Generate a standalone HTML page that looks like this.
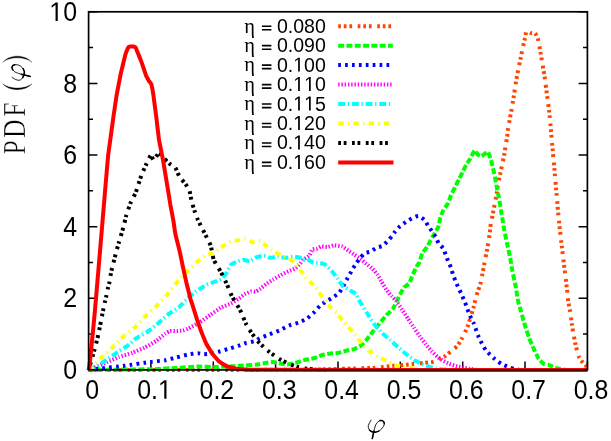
<!DOCTYPE html>
<html><head><meta charset="utf-8"><title>PDF plot</title>
<style>html,body{margin:0;padding:0;background:#fff;}svg{display:block;will-change:transform;}text{font-family:"Liberation Sans",sans-serif;fill:#000;}.s{font-family:"Liberation Serif",serif;}</style></head><body>
<svg width="611" height="441" viewBox="0 0 611 441">
<rect width="611" height="441" fill="#fff"/>
<path d="M88.6,369.9h8.8M587.4,369.9h-8.8M88.6,334.1h4.4M587.4,334.1h-4.4M88.6,298.3h8.8M587.4,298.3h-8.8M88.6,262.5h4.4M587.4,262.5h-4.4M88.6,226.7h8.8M587.4,226.7h-8.8M88.6,190.8h4.4M587.4,190.8h-4.4M88.6,155.0h8.8M587.4,155.0h-8.8M88.6,119.2h4.4M587.4,119.2h-4.4M88.6,83.4h8.8M587.4,83.4h-8.8M88.6,47.6h4.4M587.4,47.6h-4.4M88.6,11.8h8.8M587.4,11.8h-8.8M88.6,369.9v-8.5M150.9,369.9v-8.5M213.3,369.9v-8.5M275.6,369.9v-8.5M338.0,369.9v-8.5M400.3,369.9v-8.5M462.7,369.9v-8.5M525.0,369.9v-8.5M587.4,369.9v-8.5" stroke="#000" stroke-width="1.5" fill="none"/>
<g fill="none" stroke-width="4.0" stroke-linejoin="round">
<path d="M88.6,370.0 C103.7,370.0 282.8,369.9 300.0,369.8 C317.2,369.8 326.1,369.4 330.0,369.3 C333.9,369.2 351.8,368.5 355.0,368.4 C358.2,368.3 371.8,368.0 374.6,367.8 C377.4,367.6 392.1,366.0 394.3,365.8 C396.6,365.6 404.7,364.9 406.1,364.8 C407.5,364.7 412.6,364.0 413.9,363.9 C415.2,363.8 422.4,363.0 423.8,362.9 C425.2,362.8 432.5,362.2 433.6,361.9 C434.7,361.6 438.7,359.3 439.5,358.9 C440.3,358.5 444.6,356.6 445.4,356.0 C446.2,355.4 450.5,351.8 451.3,351.1 C452.1,350.4 456.4,347.1 457.2,346.2 C458.0,345.3 461.5,339.3 462.1,338.3 C462.7,337.3 464.6,333.3 465.0,332.4 C465.4,331.5 467.6,326.6 468.0,325.5 C468.4,324.4 470.2,318.3 470.6,317.1 C471.0,315.9 472.9,309.6 473.3,308.3 C473.7,307.0 475.3,300.1 475.6,298.8 C475.9,297.5 477.7,291.8 478.1,290.6 C478.5,289.4 480.5,283.8 480.8,282.4 C481.1,281.0 482.6,273.2 482.9,271.6 C483.2,270.1 484.6,262.1 484.9,260.7 C485.2,259.3 486.4,253.2 486.7,251.7 C487.0,250.2 488.6,241.1 488.8,239.5 C489.1,237.9 490.1,230.4 490.2,229.3 C490.3,228.2 490.6,224.9 490.8,223.8 C491.0,222.7 492.6,215.1 492.9,213.6 C493.2,212.1 494.6,204.9 494.9,203.4 C495.2,201.9 496.7,193.5 496.9,192.1 C497.1,190.7 497.8,185.2 498.0,184.0 C498.2,182.8 499.7,176.1 500.0,174.8 C500.3,173.5 501.7,167.0 502.0,165.6 C502.3,164.2 503.8,156.9 504.1,155.4 C504.4,153.9 505.5,146.5 505.7,145.2 C505.9,143.9 506.9,138.2 507.1,137.0 C507.3,135.8 507.8,130.3 508.2,128.0 C508.6,125.7 511.8,108.2 512.4,104.8 C513.0,101.4 515.9,82.5 516.3,79.9 C516.7,77.3 518.1,70.5 518.4,69.0 C518.7,67.5 520.1,60.9 520.4,59.5 C520.7,58.1 522.1,50.7 522.4,49.3 C522.7,47.9 524.3,41.4 524.5,40.4 C524.7,39.4 525.5,35.7 525.6,35.0 C525.7,34.3 526.1,30.8 526.5,30.6 C526.9,30.5 530.0,32.7 530.6,32.9 C531.2,33.1 534.6,32.9 535.1,33.3 C535.6,33.7 537.5,37.5 537.8,38.4 C538.1,39.3 539.3,45.4 539.5,46.5 C539.7,47.6 540.6,53.0 540.8,54.0 C541.0,55.0 541.7,59.7 541.9,60.8 C542.1,61.9 543.1,67.9 543.3,69.0 C543.5,70.1 544.3,74.5 544.6,76.5 C544.9,78.5 546.9,94.4 547.3,97.3 C547.7,100.2 549.5,113.8 549.8,117.0 C550.1,120.2 551.6,137.8 551.9,141.5 C552.2,145.2 554.0,164.3 554.3,168.1 C554.6,171.9 556.3,191.0 556.6,194.6 C556.9,198.2 558.4,214.8 558.7,218.2 C559.0,221.6 560.9,238.9 561.3,242.0 C561.7,245.1 563.3,258.9 563.7,262.2 C564.1,265.5 566.5,284.8 566.8,287.6 C567.1,290.4 568.0,299.3 568.2,301.0 C568.4,302.7 569.9,310.2 570.2,311.8 C570.5,313.4 571.5,321.9 571.8,323.6 C572.0,325.3 573.4,333.7 573.7,335.4 C574.0,337.1 575.7,345.7 576.1,347.2 C576.5,348.7 578.5,355.9 579.0,357.0 C579.5,358.1 582.5,362.3 583.0,362.9 C583.5,363.5 585.6,365.4 585.9,365.8 C586.2,366.2 587.3,367.8 587.4,368.0" stroke="#ff4500" stroke-dasharray="2.7,2.9,2.7,2.9,2.7,5.6"/>
<path d="M88.6,370.0 C93.0,369.9 143.7,369.4 150.0,369.3 C156.3,369.2 173.2,368.1 176.6,367.9 C180.0,367.7 194.8,366.7 197.6,366.6 C200.4,366.5 212.9,367.2 215.9,367.1 C218.9,367.0 237.2,366.0 240.0,365.8 C242.8,365.6 253.9,365.0 255.7,364.8 C257.5,364.6 264.2,363.1 265.5,362.9 C266.8,362.7 272.4,361.9 273.4,361.9 C274.4,361.9 278.3,363.1 279.3,363.3 C280.3,363.5 285.9,364.5 287.2,364.4 C288.5,364.3 295.7,362.8 297.0,362.5 C298.3,362.2 303.5,360.2 304.8,359.9 C306.1,359.6 313.4,358.4 314.7,358.0 C316.0,357.6 321.4,355.3 322.5,355.0 C323.6,354.7 329.3,353.5 330.4,353.4 C331.5,353.3 337.1,353.2 338.2,353.0 C339.3,352.8 345.0,351.0 346.1,350.7 C347.2,350.4 353.0,349.4 354.0,349.1 C355.0,348.8 359.2,346.8 360.0,346.2 C360.8,345.6 364.8,342.0 365.7,340.9 C366.6,339.8 371.8,333.0 373.3,331.1 C374.8,329.2 385.4,316.4 386.8,314.8 C388.2,313.2 392.1,310.1 393.0,308.7 C393.9,307.3 399.2,296.1 400.0,294.6 C400.8,293.1 403.4,288.2 404.1,287.4 C404.8,286.6 408.6,284.2 409.2,283.4 C409.8,282.6 411.7,277.4 412.2,276.2 C412.7,275.0 415.8,268.0 416.3,267.0 C416.8,266.0 419.1,263.1 419.5,262.1 C419.9,261.1 421.7,254.4 422.2,253.3 C422.7,252.2 426.4,248.1 427.0,247.2 C427.6,246.3 429.9,241.6 430.4,240.6 C430.9,239.6 433.9,234.6 434.5,233.6 C435.1,232.6 438.2,227.2 438.6,226.1 C439.0,225.0 439.9,219.0 440.2,217.9 C440.5,216.8 442.7,211.5 443.3,210.4 C443.9,209.3 447.6,204.1 448.1,203.0 C448.7,201.9 450.5,196.3 451.0,195.2 C451.5,194.1 454.5,188.2 455.1,187.0 C455.7,185.8 458.6,180.1 459.2,178.9 C459.8,177.7 462.8,171.7 463.3,170.7 C463.8,169.7 465.8,165.5 466.3,164.6 C466.8,163.7 469.8,159.5 470.4,158.5 C471.0,157.5 474.0,150.6 474.5,150.3 C475.0,150.0 477.1,154.0 477.6,154.4 C478.1,154.8 480.9,156.6 481.6,156.4 C482.3,156.2 487.1,151.5 487.8,151.7 C488.5,151.9 490.4,158.4 490.8,159.5 C491.2,160.6 492.6,166.5 492.9,167.7 C493.2,168.9 494.6,175.3 494.9,176.8 C495.2,178.3 496.6,186.6 496.9,188.1 C497.2,189.6 498.7,196.7 499.0,198.3 C499.3,199.9 500.7,208.8 501.0,210.5 C501.3,212.2 502.9,221.5 503.1,222.8 C503.3,224.1 503.8,227.8 504.1,229.3 C504.4,230.8 506.7,241.6 507.1,243.6 C507.5,245.6 509.8,256.0 510.2,257.9 C510.6,259.8 511.8,268.2 512.2,270.1 C512.6,272.0 514.9,282.5 515.3,284.4 C515.7,286.3 517.1,295.3 517.3,296.6 C517.5,297.9 518.0,300.9 518.3,302.0 C518.6,303.1 520.6,310.1 521.1,311.8 C521.6,313.5 524.4,323.7 525.0,325.5 C525.6,327.3 528.3,335.6 528.9,337.3 C529.5,339.0 533.2,347.6 533.9,349.1 C534.6,350.6 538.1,357.8 538.8,358.9 C539.5,360.0 543.0,363.5 543.7,363.9 C544.4,364.3 547.8,364.6 548.6,364.8 C549.4,365.1 553.7,367.1 554.5,367.4 C555.3,367.7 559.2,368.6 560.0,368.8 C560.8,369.0 564.4,369.7 565.0,369.8 C565.6,369.9 567.8,370.0 568.0,370.0" stroke="#00ff00" stroke-dasharray="5.9,2.4"/>
<path d="M88.6,370.0 C89.5,369.9 98.2,368.7 100.7,368.4 C103.2,368.1 120.8,366.3 124.3,365.8 C127.8,365.3 147.5,362.3 150.4,361.9 C153.3,361.5 163.1,360.6 165.0,360.3 C166.9,360.0 174.9,357.8 176.6,357.4 C178.2,357.0 186.6,354.8 188.1,354.5 C189.6,354.2 196.7,353.2 197.8,353.2 C198.9,353.2 202.5,354.2 203.5,354.2 C204.5,354.2 210.1,353.8 211.2,353.6 C212.3,353.4 217.8,352.0 219.0,351.7 C220.2,351.4 227.2,349.2 228.6,348.8 C230.0,348.4 237.0,346.3 238.2,345.9 C239.4,345.5 244.7,343.3 245.9,343.0 C247.1,342.7 254.0,341.4 255.0,341.1 C256.0,340.8 258.6,338.8 259.6,338.3 C260.6,337.8 268.1,335.0 269.5,334.4 C270.9,333.8 277.9,331.1 279.3,330.5 C280.7,329.9 287.7,326.1 289.1,325.5 C290.5,324.9 297.6,323.1 298.9,322.6 C300.2,322.1 305.7,319.5 306.8,318.7 C307.9,317.9 313.7,312.8 314.7,311.8 C315.7,310.8 319.6,306.0 320.5,305.2 C321.4,304.4 326.4,301.4 327.3,300.8 C328.2,300.2 332.4,297.8 333.3,297.2 C334.2,296.6 338.5,293.5 339.2,292.7 C339.9,291.9 342.8,287.1 343.3,286.2 C343.8,285.3 346.1,280.8 346.5,280.0 C346.9,279.2 349.1,275.4 349.6,274.6 C350.1,273.8 352.5,269.3 353.0,268.5 C353.5,267.7 356.0,263.6 356.5,262.8 C357.0,262.0 359.9,258.5 360.5,257.8 C361.1,257.1 364.2,253.4 364.9,253.0 C365.6,252.6 369.8,252.0 370.6,251.6 C371.4,251.2 375.7,248.1 376.6,247.7 C377.5,247.3 381.9,246.3 382.7,245.8 C383.5,245.3 387.3,241.2 388.0,240.5 C388.7,239.8 391.5,236.6 392.0,236.0 C392.5,235.4 394.4,232.5 395.0,231.8 C395.6,231.1 399.1,227.0 400.0,226.2 C400.9,225.4 406.2,221.7 407.1,221.1 C408.0,220.5 411.9,218.3 412.7,217.9 C413.5,217.5 417.6,215.8 418.4,215.9 C419.2,216.0 423.6,219.0 424.3,219.7 C425.0,220.4 427.5,224.9 428.0,225.7 C428.5,226.5 431.2,230.3 431.8,231.1 C432.4,231.9 435.4,236.3 435.9,237.2 C436.4,238.1 438.1,242.7 438.6,243.5 C439.1,244.3 442.8,247.5 443.3,248.3 C443.8,249.1 445.3,253.8 445.6,254.7 C445.9,255.6 447.7,260.2 448.1,261.1 C448.5,262.0 450.6,266.6 450.9,267.5 C451.2,268.4 452.6,273.3 452.9,274.3 C453.2,275.3 455.2,280.2 455.6,281.1 C456.0,282.0 457.7,286.3 458.1,287.2 C458.5,288.1 460.7,292.4 461.1,293.3 C461.5,294.2 463.4,298.6 463.8,299.5 C464.2,300.4 466.2,305.4 466.5,306.3 C466.8,307.2 468.3,311.5 468.6,312.4 C468.9,313.3 470.9,317.7 471.3,318.5 C471.7,319.3 473.4,322.3 473.9,323.6 C474.4,324.9 478.0,335.4 478.8,337.3 C479.6,339.2 484.6,348.6 485.7,350.1 C486.8,351.6 492.5,357.0 493.6,358.0 C494.7,359.0 500.3,363.2 501.4,363.9 C502.5,364.6 508.4,367.0 509.3,367.4 C510.2,367.8 513.4,368.6 514.0,368.8 C514.6,369.0 517.5,369.6 518.0,369.7 C518.5,369.8 520.8,370.0 521.0,370.0" stroke="#0000ff" stroke-dasharray="2.7,4.2"/>
<path d="M88.6,370.0 C89.9,369.4 104.9,363.0 107.1,362.1 C109.3,361.2 117.2,357.7 119.0,357.0 C120.8,356.3 130.8,353.4 132.6,352.7 C134.4,352.0 142.8,348.5 144.5,347.6 C146.2,346.8 154.9,341.8 156.4,340.8 C157.9,339.8 163.9,334.7 164.9,334.0 C165.9,333.3 169.2,331.2 170.0,331.0 C170.8,330.8 175.9,331.0 176.8,331.0 C177.7,331.0 182.2,330.7 183.0,330.5 C183.8,330.3 187.2,329.1 188.4,328.5 C189.6,327.9 197.7,323.5 199.3,322.5 C200.9,321.5 209.1,315.9 210.6,314.8 C212.1,313.7 219.3,308.5 220.8,307.7 C222.3,306.9 229.7,304.0 231.0,303.4 C232.3,302.8 237.6,299.4 238.6,298.8 C239.6,298.2 243.7,294.8 244.6,294.3 C245.5,293.8 250.4,291.6 251.2,291.4 C252.0,291.2 254.9,291.8 255.5,291.6 C256.1,291.5 258.8,289.8 259.6,289.3 C260.4,288.8 265.2,284.7 266.2,284.0 C267.2,283.3 272.4,279.9 273.5,279.3 C274.6,278.7 279.9,275.6 281.0,275.0 C282.1,274.4 287.5,271.8 288.5,271.3 C289.5,270.8 294.2,269.0 295.0,268.5 C295.8,268.0 299.4,264.4 300.0,263.8 C300.6,263.2 302.5,260.3 303.2,259.7 C303.9,259.1 308.7,256.3 309.3,255.6 C309.9,254.9 311.7,250.0 312.3,249.5 C312.9,249.0 316.7,248.7 317.4,248.5 C318.1,248.3 320.8,246.5 321.5,246.4 C322.2,246.3 326.8,247.1 327.7,247.0 C328.6,246.9 332.8,245.4 333.8,245.4 C334.8,245.4 340.9,246.0 341.9,246.4 C342.9,246.8 347.2,249.9 348.1,250.5 C349.0,251.1 353.3,254.0 354.2,254.6 C355.1,255.2 359.4,258.0 360.3,258.7 C361.2,259.4 365.5,263.1 366.4,263.8 C367.3,264.5 371.8,268.1 372.6,268.9 C373.4,269.7 377.1,274.1 377.7,275.0 C378.3,275.9 381.1,281.0 381.7,282.1 C382.3,283.2 386.1,289.3 386.8,290.3 C387.5,291.3 391.2,295.6 391.9,296.4 C392.6,297.2 395.6,300.0 396.3,301.0 C397.0,302.0 401.4,308.5 402.2,309.8 C403.0,311.1 407.2,317.4 408.0,318.7 C408.8,320.0 413.1,326.2 413.9,327.5 C414.7,328.8 419.0,335.1 419.8,336.3 C420.6,337.5 424.9,343.1 425.7,344.2 C426.5,345.3 430.8,350.2 431.6,351.1 C432.4,352.0 436.7,356.3 437.5,357.0 C438.3,357.7 442.6,360.4 443.4,360.9 C444.2,361.4 448.3,363.5 449.3,363.9 C450.3,364.3 456.1,366.1 457.2,366.4 C458.3,366.7 464.0,367.8 465.0,368.0 C466.0,368.2 470.2,368.9 471.0,369.0 C471.8,369.1 475.4,369.7 476.0,369.8 C476.6,369.9 479.7,370.0 480.0,370.0" stroke="#ff00ff" stroke-dasharray="1.4,1.85"/>
<path d="M88.6,370.0 C89.6,369.5 100.1,364.1 102.0,362.9 C103.9,361.7 113.8,354.8 115.6,353.6 C117.4,352.4 126.0,347.0 127.5,345.9 C129.0,344.8 134.5,339.3 136.0,338.3 C137.5,337.3 146.3,332.6 147.9,331.5 C149.5,330.4 157.6,323.8 159.0,322.6 C160.4,321.4 166.7,315.5 168.1,314.4 C169.5,313.3 177.6,308.4 179.0,307.2 C180.4,306.0 186.9,299.2 188.1,298.1 C189.3,297.0 194.3,292.6 195.3,291.8 C196.3,291.0 201.8,287.7 202.6,287.2 C203.4,286.7 205.7,285.2 206.5,284.8 C207.3,284.4 212.7,282.5 213.7,282.1 C214.7,281.7 219.9,279.7 220.8,279.1 C221.7,278.5 225.2,275.0 225.9,274.0 C226.6,273.0 230.2,265.7 231.0,264.8 C231.8,263.9 236.2,262.1 237.1,261.7 C238.0,261.3 242.4,259.7 243.3,259.7 C244.2,259.7 248.5,261.4 249.4,261.3 C250.3,261.2 254.5,258.1 255.5,257.7 C256.5,257.3 262.7,255.6 263.7,255.6 C264.7,255.6 268.8,257.6 269.8,257.7 C270.8,257.8 276.8,256.6 278.0,256.6 C279.2,256.6 284.9,257.7 286.1,257.7 C287.3,257.7 293.3,256.6 294.3,256.6 C295.3,256.6 299.5,257.5 300.0,257.7 C300.5,257.9 300.6,259.6 301.1,259.7 C301.6,259.8 306.3,259.1 307.2,259.3 C308.1,259.5 312.5,262.6 313.4,262.8 C314.3,263.1 318.6,262.7 319.5,262.8 C320.4,262.9 324.7,264.2 325.6,264.8 C326.5,265.4 330.8,269.9 331.7,270.9 C332.6,271.9 337.1,278.0 337.9,279.1 C338.7,280.2 342.1,285.4 343.0,286.2 C343.9,287.0 349.2,289.7 350.1,290.3 C351.0,290.9 355.6,293.7 356.2,294.4 C356.8,295.1 358.1,298.7 358.9,300.0 C359.7,301.3 365.7,311.0 366.8,312.8 C367.9,314.6 373.5,323.1 374.6,324.6 C375.7,326.1 381.4,332.3 382.5,333.4 C383.6,334.5 389.3,339.3 390.4,340.3 C391.5,341.3 397.1,346.2 398.2,347.2 C399.3,348.2 405.0,353.1 406.1,354.0 C407.2,354.9 412.8,359.2 413.9,359.9 C415.0,360.6 420.7,363.4 421.8,363.9 C422.9,364.4 428.7,366.5 429.7,366.8 C430.7,367.1 434.4,368.2 435.5,368.4 C436.6,368.6 443.6,369.4 445.0,369.5 C446.4,369.6 454.3,370.0 455.0,370.0" stroke="#00ffff" stroke-dasharray="6.8,2.7,1.35,2.85"/>
<path d="M88.6,370.0 C89.4,369.2 98.6,360.3 100.3,358.7 C102.0,357.1 110.5,349.2 112.2,347.6 C113.9,346.0 122.4,337.2 124.1,335.7 C125.8,334.2 134.4,327.9 136.0,326.4 C137.6,324.9 144.7,316.8 146.2,315.3 C147.7,313.8 154.9,307.4 156.4,306.0 C157.9,304.6 165.1,297.0 166.6,295.3 C168.1,293.6 176.5,282.9 177.5,281.7 C178.5,280.5 179.2,278.9 180.0,278.1 C180.8,277.3 186.9,272.1 188.2,270.9 C189.5,269.7 197.1,261.9 198.4,260.7 C199.7,259.5 205.5,255.1 206.5,254.6 C207.5,254.1 211.7,254.1 212.7,253.6 C213.7,253.1 219.5,248.3 220.8,247.4 C222.1,246.5 229.7,241.8 231.0,241.3 C232.3,240.8 238.2,240.4 239.2,240.3 C240.2,240.2 244.3,239.2 245.3,239.3 C246.3,239.4 252.4,242.2 253.5,242.3 C254.6,242.4 259.7,240.7 260.6,240.9 C261.5,241.1 264.9,244.7 265.7,245.4 C266.5,246.1 270.6,249.8 271.8,250.5 C273.0,251.2 280.5,254.9 282.0,255.6 C283.5,256.3 291.3,260.1 292.2,260.7 C293.1,261.3 294.5,263.3 295.0,263.8 C295.5,264.3 298.4,267.0 299.1,267.9 C299.8,268.8 303.4,275.0 304.2,276.0 C305.0,277.0 309.5,281.4 310.3,282.1 C311.1,282.8 314.7,285.3 315.4,286.2 C316.1,287.1 319.8,293.3 320.5,294.4 C321.2,295.5 324.8,300.5 325.6,301.5 C326.4,302.5 330.9,307.9 331.7,308.7 C332.5,309.5 336.0,311.9 336.8,312.8 C337.6,313.7 342.1,320.1 343.4,321.6 C344.7,323.1 353.6,332.7 355.0,334.4 C356.4,336.1 361.8,343.9 362.9,345.2 C364.0,346.5 369.6,351.3 370.7,352.1 C371.8,352.9 377.5,356.4 378.6,357.0 C379.7,357.6 385.3,360.3 386.4,360.9 C387.5,361.5 393.2,364.4 394.3,364.8 C395.4,365.2 400.9,366.6 402.2,366.8 C403.5,367.0 410.6,368.0 412.0,368.2 C413.4,368.4 420.7,369.4 422.0,369.5 C423.3,369.6 429.4,370.0 430.0,370.0" stroke="#ffff00" stroke-dasharray="5.5,4.2,1.2,4.3"/>
<path d="M88.6,370.0 C89.0,368.6 93.8,352.3 94.5,349.7 C95.2,347.1 98.0,336.3 98.6,333.4 C99.2,330.5 102.9,311.2 103.4,308.9 C103.9,306.6 104.9,302.1 105.1,301.1 C105.3,300.2 106.2,296.6 106.4,295.6 C106.6,294.6 107.9,288.5 108.1,287.5 C108.3,286.5 109.3,283.2 109.5,282.0 C109.7,280.8 111.0,272.7 111.4,270.9 C111.8,269.1 114.3,259.4 114.8,257.3 C115.3,255.2 118.4,244.1 119.0,242.0 C119.6,239.9 122.8,229.5 123.3,227.6 C123.8,225.7 125.8,217.2 126.3,215.5 C126.8,213.8 129.7,204.9 130.4,203.3 C131.1,201.7 134.9,194.5 135.5,193.1 C136.1,191.7 138.2,185.2 138.6,183.9 C139.0,182.6 141.1,176.0 141.6,174.7 C142.1,173.4 145.0,166.9 145.7,165.5 C146.4,164.1 150.2,155.7 150.8,155.3 C151.4,154.9 153.3,160.6 153.9,160.4 C154.5,160.2 158.3,152.8 159.0,152.7 C159.7,152.6 163.4,157.6 164.1,158.4 C164.8,159.2 168.4,162.8 169.2,163.5 C170.0,164.2 174.6,166.7 175.3,167.6 C176.0,168.5 178.7,175.5 179.4,176.7 C180.1,177.9 184.8,182.9 185.5,183.9 C186.2,184.9 189.2,189.8 189.6,191.0 C190.0,192.2 191.2,199.7 191.6,201.2 C192.0,202.7 194.3,210.1 194.7,211.4 C195.1,212.7 197.2,218.3 197.8,219.6 C198.4,220.9 202.0,228.0 202.9,229.8 C203.8,231.6 209.8,243.3 210.6,245.4 C211.4,247.5 213.0,257.8 213.7,259.7 C214.4,261.6 219.9,270.1 220.8,271.9 C221.7,273.6 226.1,282.4 226.9,284.2 C227.7,285.9 231.1,294.6 232.0,296.4 C232.9,298.2 239.0,307.9 240.0,309.8 C241.0,311.7 245.1,321.9 245.9,323.6 C246.7,325.3 250.8,332.0 251.8,333.4 C252.8,334.8 258.3,341.9 259.6,343.2 C260.9,344.5 268.1,351.0 269.5,352.1 C270.9,353.2 277.9,358.1 279.3,358.9 C280.7,359.7 287.8,363.3 289.1,363.9 C290.4,364.5 295.9,366.5 297.0,366.8 C298.1,367.1 303.5,368.2 304.8,368.4 C306.1,368.6 313.2,369.4 315.0,369.5 C316.8,369.6 328.9,370.0 330.0,370.0" stroke="#000000" stroke-dasharray="2.8,2.7,2.8,5.5"/>
<path d="M88.8,370.0 C88.8,369.9 89.3,367.7 89.4,367.2 C89.5,366.7 91.1,349.9 91.2,349.0 C91.3,348.1 93.0,331.0 93.1,330.0 C93.2,329.0 94.9,311.0 95.0,310.0 C95.1,309.0 96.6,291.0 96.7,290.0 C96.8,289.0 98.3,271.0 98.4,270.0 C98.5,269.0 100.0,251.0 100.1,250.0 C100.2,249.0 101.7,230.9 101.8,230.0 C101.9,229.1 103.2,212.8 103.3,212.0 C103.4,211.2 104.5,198.0 104.6,196.6 C104.7,195.2 107.9,157.8 108.1,155.8 C108.3,153.8 113.2,118.5 113.4,117.0 C113.6,115.5 116.4,96.4 116.6,95.3 C116.8,94.2 120.5,74.9 120.7,73.9 C120.9,72.9 125.2,55.2 125.4,54.5 C125.6,53.8 128.3,47.4 128.4,47.2 C128.5,47.0 129.9,46.6 130.0,46.6 C130.1,46.6 133.7,46.6 133.8,46.6 C133.9,46.6 135.5,47.2 135.6,47.4 C135.7,47.6 138.3,54.1 138.5,54.5 C138.7,54.9 141.9,63.2 142.1,63.7 C142.3,64.2 146.0,75.5 146.2,75.9 C146.4,76.3 148.6,80.4 148.7,80.6 C148.8,80.8 151.2,83.7 151.3,84.1 C151.4,84.5 153.3,94.5 153.4,95.3 C153.5,96.1 156.2,115.9 156.3,117.0 C156.4,118.1 158.8,138.9 159.0,140.0 C159.2,141.1 162.9,159.2 163.1,160.4 C163.3,161.7 167.8,188.9 168.0,190.0 C168.2,191.1 170.3,204.2 170.4,205.0 C170.5,205.8 173.6,221.6 173.7,222.4 C173.8,223.2 176.0,236.7 176.2,237.4 C176.4,238.1 179.7,251.6 179.9,252.3 C180.1,253.0 182.8,266.5 183.0,267.3 C183.2,268.1 186.4,282.8 186.6,283.5 C186.8,284.2 189.9,296.7 190.0,297.2 C190.1,297.7 191.8,303.0 192.0,303.5 C192.2,304.0 196.6,318.2 196.8,318.9 C197.0,319.6 201.4,331.8 201.6,332.4 C201.8,333.0 206.1,343.5 206.4,344.0 C206.7,344.5 211.9,353.2 212.2,353.6 C212.5,354.0 218.6,361.0 219.0,361.3 C219.4,361.6 226.3,365.9 226.7,366.1 C227.1,366.3 235.8,368.5 236.3,368.6 C236.8,368.7 245.4,369.4 245.9,369.4 C246.4,369.4 246.5,369.8 255.0,369.8 C263.5,369.8 579.1,370.0 587.4,370.0" stroke="#ff0000" stroke-linejoin="miter"/>
</g>
<rect x="88.6" y="11.8" width="498.8" height="358.1" fill="none" stroke="#000" stroke-width="1.7"/>
<text transform="translate(63.14,379.10) scale(0.93,1)" font-size="26.8">0</text>
<text transform="translate(63.14,307.48) scale(0.93,1)" font-size="26.8">2</text>
<text transform="translate(63.14,235.86) scale(0.93,1)" font-size="26.8">4</text>
<text transform="translate(63.14,164.24) scale(0.93,1)" font-size="26.8">6</text>
<text transform="translate(63.14,92.62) scale(0.93,1)" font-size="26.8">8</text>
<path transform="translate(49.28,21.00) scale(0.012170,-0.013086)" d="M515 0V1237L197 1010V1180L530 1409H696V0Z" fill="#000"/><text transform="translate(63.14,21.00) scale(0.93,1)" font-size="26.8">0</text>
<text transform="translate(85.27,398.70) scale(0.93,1)" font-size="26.8">0</text>
<text transform="translate(137.23,398.70) scale(0.93,1)" font-size="26.8">0.</text><path transform="translate(158.01,398.70) scale(0.012170,-0.013086)" d="M515 0V1237L197 1010V1180L530 1409H696V0Z" fill="#000"/>
<text transform="translate(199.58,398.70) scale(0.93,1)" font-size="26.8">0.2</text>
<text transform="translate(261.93,398.70) scale(0.93,1)" font-size="26.8">0.3</text>
<text transform="translate(324.28,398.70) scale(0.93,1)" font-size="26.8">0.4</text>
<text transform="translate(386.63,398.70) scale(0.93,1)" font-size="26.8">0.5</text>
<text transform="translate(448.98,398.70) scale(0.93,1)" font-size="26.8">0.6</text>
<text transform="translate(511.33,398.70) scale(0.93,1)" font-size="26.8">0.7</text>
<text transform="translate(573.68,398.70) scale(0.93,1)" font-size="26.8">0.8</text>
<text class="s" x="244.2" y="32.5" font-size="20.5">η</text><text transform="translate(276.90,32.70) scale(0.963,1)" font-size="20.3">0.080</text>
<path d="M261.9,26.20h9.5M261.9,29.75h9.5" stroke="#000" stroke-width="1.6" fill="none"/>
<path d="M338.2,26.2H392.8" stroke="#ff4500" stroke-width="4.0" fill="none" stroke-dasharray="2.7,2.9,2.7,2.9,2.7,5.6"/>
<text class="s" x="244.2" y="52.0" font-size="20.5">η</text><text transform="translate(276.90,52.16) scale(0.963,1)" font-size="20.3">0.090</text>
<path d="M261.9,45.66h9.5M261.9,49.21h9.5" stroke="#000" stroke-width="1.6" fill="none"/>
<path d="M338.2,45.7H392.8" stroke="#00ff00" stroke-width="4.0" fill="none" stroke-dasharray="5.9,2.4"/>
<text class="s" x="244.2" y="71.4" font-size="20.5">η</text><text transform="translate(276.90,71.62) scale(0.963,1)" font-size="20.3">0.</text><path transform="translate(293.20,71.62) scale(0.009545,-0.009912)" d="M515 0V1237L197 1010V1180L530 1409H696V0Z" fill="#000"/><text transform="translate(304.08,71.62) scale(0.963,1)" font-size="20.3">00</text>
<path d="M261.9,65.12h9.5M261.9,68.67h9.5" stroke="#000" stroke-width="1.6" fill="none"/>
<path d="M338.2,65.1H392.8" stroke="#0000ff" stroke-width="4.0" fill="none" stroke-dasharray="2.7,4.2"/>
<text class="s" x="244.2" y="90.9" font-size="20.5">η</text><text transform="translate(276.90,91.08) scale(0.963,1)" font-size="20.3">0.</text><path transform="translate(293.20,91.08) scale(0.009545,-0.009912)" d="M515 0V1237L197 1010V1180L530 1409H696V0Z" fill="#000"/><path transform="translate(304.08,91.08) scale(0.009545,-0.009912)" d="M515 0V1237L197 1010V1180L530 1409H696V0Z" fill="#000"/><text transform="translate(314.95,91.08) scale(0.963,1)" font-size="20.3">0</text>
<path d="M261.9,84.58h9.5M261.9,88.13h9.5" stroke="#000" stroke-width="1.6" fill="none"/>
<path d="M338.2,84.6H392.8" stroke="#ff00ff" stroke-width="4.0" fill="none" stroke-dasharray="1.4,1.85"/>
<text class="s" x="244.2" y="110.3" font-size="20.5">η</text><text transform="translate(276.90,110.54) scale(0.963,1)" font-size="20.3">0.</text><path transform="translate(293.20,110.54) scale(0.009545,-0.009912)" d="M515 0V1237L197 1010V1180L530 1409H696V0Z" fill="#000"/><path transform="translate(304.08,110.54) scale(0.009545,-0.009912)" d="M515 0V1237L197 1010V1180L530 1409H696V0Z" fill="#000"/><text transform="translate(314.95,110.54) scale(0.963,1)" font-size="20.3">5</text>
<path d="M261.9,104.04h9.5M261.9,107.59h9.5" stroke="#000" stroke-width="1.6" fill="none"/>
<path d="M338.2,104.0H392.8" stroke="#00ffff" stroke-width="4.0" fill="none" stroke-dasharray="6.8,2.7,1.35,2.85"/>
<text class="s" x="244.2" y="129.8" font-size="20.5">η</text><text transform="translate(276.90,130.00) scale(0.963,1)" font-size="20.3">0.</text><path transform="translate(293.20,130.00) scale(0.009545,-0.009912)" d="M515 0V1237L197 1010V1180L530 1409H696V0Z" fill="#000"/><text transform="translate(304.08,130.00) scale(0.963,1)" font-size="20.3">20</text>
<path d="M261.9,123.50h9.5M261.9,127.05h9.5" stroke="#000" stroke-width="1.6" fill="none"/>
<path d="M338.2,123.5H392.8" stroke="#ffff00" stroke-width="4.0" fill="none" stroke-dasharray="5.5,4.2,1.2,4.3"/>
<text class="s" x="244.2" y="149.3" font-size="20.5">η</text><text transform="translate(276.90,149.46) scale(0.963,1)" font-size="20.3">0.</text><path transform="translate(293.20,149.46) scale(0.009545,-0.009912)" d="M515 0V1237L197 1010V1180L530 1409H696V0Z" fill="#000"/><text transform="translate(304.08,149.46) scale(0.963,1)" font-size="20.3">40</text>
<path d="M261.9,142.96h9.5M261.9,146.51h9.5" stroke="#000" stroke-width="1.6" fill="none"/>
<path d="M338.2,143.0H392.8" stroke="#000000" stroke-width="4.0" fill="none" stroke-dasharray="2.8,2.7,2.8,5.5"/>
<text class="s" x="244.2" y="168.7" font-size="20.5">η</text><text transform="translate(276.90,168.92) scale(0.963,1)" font-size="20.3">0.</text><path transform="translate(293.20,168.92) scale(0.009545,-0.009912)" d="M515 0V1237L197 1010V1180L530 1409H696V0Z" fill="#000"/><text transform="translate(304.08,168.92) scale(0.963,1)" font-size="20.3">60</text>
<path d="M261.9,162.42h9.5M261.9,165.97h9.5" stroke="#000" stroke-width="1.6" fill="none"/>
<path d="M338.2,162.4H393.5" stroke="#ff0000" stroke-width="4.0" fill="none"/>
<text class="s" font-size="31.5" stroke="#fff" stroke-width="0.35" transform="translate(24.5,154.5) rotate(-90) scale(0.815,1)">P</text>
<text class="s" font-size="31.5" stroke="#fff" stroke-width="0.35" transform="translate(24.5,137.9) rotate(-90) scale(0.815,1)">D</text>
<text class="s" font-size="31.5" stroke="#fff" stroke-width="0.35" transform="translate(24.5,116.8) rotate(-90) scale(0.815,1)">F</text>
<path d="M2.7,62.5 C9,54 25.5,54 32,62.5 C25.5,56.3 9,56.3 2.7,62.5Z" fill="#000" stroke="#000" stroke-width="0.3"/>
<path d="M2.7,83.8 C9,91.6 25.5,91.6 32,83.8 C25.5,89.4 9,89.4 2.7,83.8Z" fill="#000" stroke="#000" stroke-width="0.3"/>
<path d="M12.1,77.4 C12.3,77.5 14.4,78.9 14.8,79.1 C15.2,79.3 17.8,80.2 18.2,80.3 C18.6,80.3 20.3,80.0 20.6,79.8 C20.9,79.6 22.5,78.1 22.7,77.7 C22.9,77.3 23.9,74.7 24.0,74.3 C24.1,73.9 24.5,72.0 24.4,71.6 C24.3,71.2 23.3,68.9 23.0,68.5 C22.7,68.1 21.0,66.5 20.6,66.2 C20.2,65.9 18.0,64.9 17.6,64.8 C17.2,64.7 15.1,64.7 14.8,64.7 C14.5,64.8 13.0,65.3 12.8,65.5 C12.6,65.7 12.0,67.2 12.0,67.5 C12.0,67.8 12.6,69.6 12.8,69.9 C13.0,70.2 14.4,71.7 14.8,71.9 C15.2,72.1 17.7,73.1 18.2,73.3 C18.7,73.5 21.1,74.2 21.6,74.3 C22.1,74.4 25.1,75.1 25.7,75.3 C26.3,75.5 29.8,76.4 30.1,76.5" fill="none" stroke="#000" stroke-width="0.95" stroke-linecap="round"/><path d="M22.7,77.7 C22.8,77.5 23.9,74.7 24.0,74.3 C24.1,73.9 24.5,72.0 24.4,71.6 C24.3,71.2 23.1,68.7 23.0,68.5" fill="none" stroke="#000" stroke-width="1.5" stroke-linecap="round"/><path d="M14.8,64.7 C14.7,64.8 13.0,65.3 12.8,65.5 C12.6,65.7 12.0,67.2 12.0,67.5 C12.0,67.8 12.7,69.7 12.8,69.9" fill="none" stroke="#000" stroke-width="1.5" stroke-linecap="round"/><path d="M21.6,74.3 C21.9,74.4 25.1,75.1 25.7,75.3 C26.3,75.5 29.8,76.4 30.1,76.5" fill="none" stroke="#000" stroke-width="1.5" stroke-linecap="round"/>
<path d="M371.1,420.1 C371.0,420.3 369.8,422.2 369.6,422.6 C369.4,423.0 368.4,425.2 368.3,425.6 C368.2,426.0 368.4,427.8 368.5,428.1 C368.6,428.4 369.4,429.9 369.6,430.2 C369.9,430.5 371.6,431.7 372.0,431.8 C372.4,431.9 374.6,432.2 375.1,432.2 C375.6,432.1 378.3,431.4 378.8,431.1 C379.3,430.9 381.4,429.1 381.8,428.7 C382.2,428.3 383.5,426.2 383.7,425.9 C383.9,425.5 384.3,424.1 384.3,423.8 C384.3,423.5 383.9,421.9 383.7,421.7 C383.5,421.5 382.4,420.7 382.1,420.6 C381.8,420.5 380.3,420.5 380.0,420.6 C379.7,420.7 378.1,421.7 377.8,422.0 C377.5,422.3 376.2,424.0 376.0,424.4 C375.8,424.8 374.9,427.0 374.8,427.5 C374.7,428.0 374.0,430.6 373.9,431.1 C373.8,431.6 373.2,434.3 373.1,434.8 C373.0,435.3 372.4,438.2 372.3,438.5" fill="none" stroke="#000" stroke-width="0.95" stroke-linecap="round"/><path d="M369.6,430.2 C369.8,430.3 371.6,431.7 372.0,431.8 C372.4,431.9 374.6,432.2 375.1,432.2 C375.6,432.1 378.5,431.2 378.8,431.1" fill="none" stroke="#000" stroke-width="1.5" stroke-linecap="round"/><path d="M384.3,423.8 C384.3,423.7 383.9,421.9 383.7,421.7 C383.5,421.5 382.4,420.7 382.1,420.6 C381.8,420.5 380.1,420.6 380.0,420.6" fill="none" stroke="#000" stroke-width="1.5" stroke-linecap="round"/><path d="M373.9,431.1 C373.8,431.4 373.2,434.3 373.1,434.8 C373.0,435.3 372.4,438.2 372.3,438.5" fill="none" stroke="#000" stroke-width="1.5" stroke-linecap="round"/>
</svg></body></html>
